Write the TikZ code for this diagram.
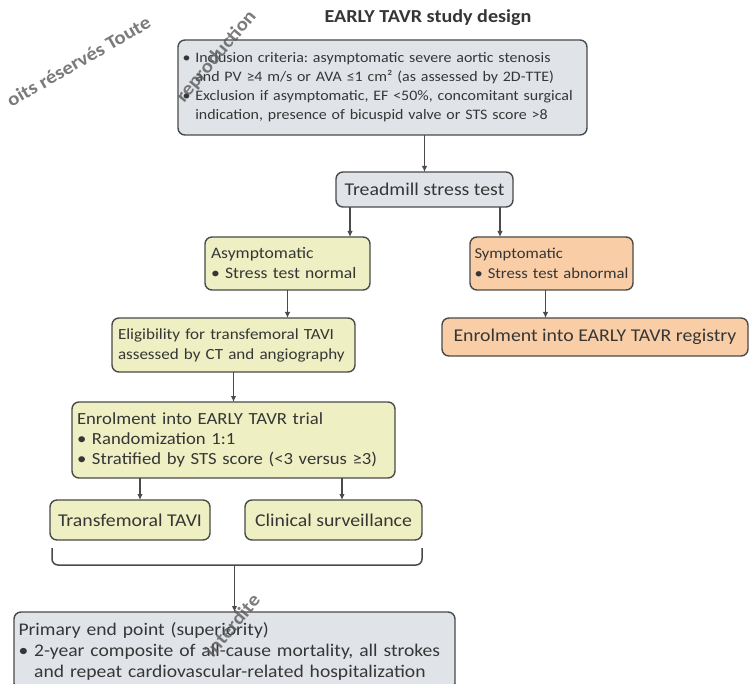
\documentclass[tikz,border=0pt]{standalone}
\usepackage{fontspec}
\setmainfont{Carlito}
\newfontfamily\widefont[FakeStretch=1.1]{Carlito}
\usetikzlibrary{arrows.meta}
\definecolor{edgec}{HTML}{4A4A4A}
\definecolor{txt}{HTML}{363636}
\definecolor{greyfill}{HTML}{E0E4E9}
\definecolor{yellowfill}{HTML}{EEF0C3}
\definecolor{orangefill}{HTML}{F9CEA6}
\definecolor{wmark}{HTML}{5A5A5A}
\newcommand{\nohyph}{\hyphenpenalty=10000\relax}
\tikzset{
  basebox/.style={draw=edgec, line width=1.4pt, rounded corners=7pt, text=txt,
    inner sep=0pt, outer sep=0pt},
  boxfont/.style={font=\frenchspacing\nohyph\widefont\fontsize{#1}{20}\selectfont},
  leftbox/.style={basebox, align=left},
  centerbox/.style={basebox, align=center, boxfont=18},
  greybox/.style={fill=greyfill},
  yellowbox/.style={fill=yellowfill},
  orangebox/.style={fill=orangefill},
  conn/.style={draw=edgec, line width=1.5pt},
  arr/.style={conn, -{Latex[length=6pt,width=5.5pt]}},
  wm/.style={text=wmark, font=\widefont\fontsize{19}{19}\selectfont\bfseries, inner sep=0pt, opacity=0.8},
}
\begin{document}
\begin{tikzpicture}[x=1pt,y=-1pt]
\useasboundingbox (0,0) rectangle (749,684);
\fill[white] (0,0) rectangle (749,684);

\node[text=txt, font=\widefont\fontsize{18.3}{20}\selectfont\bfseries] (title) at (428,18) {EARLY TAVR study design};

\node[leftbox, greybox, font=\frenchspacing\nohyph\widefont\fontsize{14.5}{19}\selectfont, minimum width=409pt, minimum height=95pt, text width=400pt] (incl) at (382.5,87.5)
{• Inclusion criteria: asymptomatic severe aortic stenosis\\
\hphantom{• }and PV ≥4 m/s or AVA ≤1 cm² (as assessed by 2D-TTE)\\
• Exclusion if asymptomatic, EF <50\%, concomitant surgical\\
\hphantom{• }indication, presence of bicuspid valve or STS score >8};

\node[centerbox, greybox, minimum width=177pt, minimum height=35pt] (tread) at (424.5,189.5) {Treadmill stress test};

\node[leftbox, yellowbox, boxfont=16, minimum width=165pt, minimum height=53pt, text width=153pt] (asym) at (287.5,263.5)
{Asymptomatic\\• Stress test normal};

\node[leftbox, orangebox, boxfont=15.1, minimum width=163pt, minimum height=53pt, text width=154pt] (sym) at (551.5,263.5)
{Symptomatic\\• Stress test abnormal};

\node[leftbox, yellowbox, boxfont=15.5, minimum width=243pt, minimum height=54pt, text width=231pt] (elig) at (233.5,345)
{Eligibility for transfemoral TAVI\\assessed by CT and angiography};

\node[centerbox, orangebox, minimum width=306pt, minimum height=38pt] (reg) at (595,337)
{Enrolment into EARLY TAVR registry};

\node[leftbox, yellowbox, boxfont=17, minimum width=323pt, minimum height=76pt, text width=313pt] (enrol) at (233.5,440)
{Enrolment into EARLY TAVR trial\\
• Randomization 1:1\\
• Stratified by STS score (<3 versus ≥3)};

\node[centerbox, yellowbox, minimum width=160pt, minimum height=40pt] (tavi) at (130,520) {Transfemoral TAVI};
\node[centerbox, yellowbox, minimum width=177pt, minimum height=40pt] (surv) at (333.5,520) {Clinical surveillance};

\node[leftbox, greybox, font=\frenchspacing\nohyph\widefont\fontsize{17.8}{21}\selectfont, minimum width=441pt, minimum height=78pt, text width=432pt, anchor=north] (prim) at (234.5,612)
{Primary end point (superiority)\\
• 2-year composite of all-cause mortality, all strokes\\
\hphantom{• }and repeat cardiovascular-related hospitalization};

% connectors
\draw[arr] (tread.north |- incl.south) -- (tread.north);
\draw[arr] ([xshift=14pt]tread.south west) -- ([xshift=14pt]tread.south west |- asym.north);
\draw[arr] ([xshift=-13pt]tread.south east) -- ([xshift=-13pt]tread.south east |- sym.north);
\draw[arr] (asym.south) -- (asym.south |- elig.north);
\draw[arr] ([xshift=-6pt]sym.south) -- ([xshift=-6pt]sym.south |- reg.north);
\draw[arr] (elig.south) -- (enrol.north);
\draw[arr] ([xshift=10pt]tavi.north |- enrol.south) -- ([xshift=10pt]tavi.north);
\draw[arr] ([xshift=8.5pt]surv.north |- enrol.south) -- ([xshift=8.5pt]surv.north);

\coordinate (brL) at (52,548);
\coordinate (brR) at (422,548);
\coordinate (brM) at (234.5,565);
\draw[conn, rounded corners=6pt] (brL) |- (brM) -| (brR);
\draw[arr] (brM) -- (prim.north);

% watermark
\node[wm, anchor=west, rotate=30] (wm1) at (8,102) {oits réservés Toute};
\node[wm, anchor=west, rotate=50] (wm2) at (180,100) {reproduction};
\node[wm, anchor=west, rotate=50] (wm3) at (208,654) {interdite};
\end{tikzpicture}
\end{document}
